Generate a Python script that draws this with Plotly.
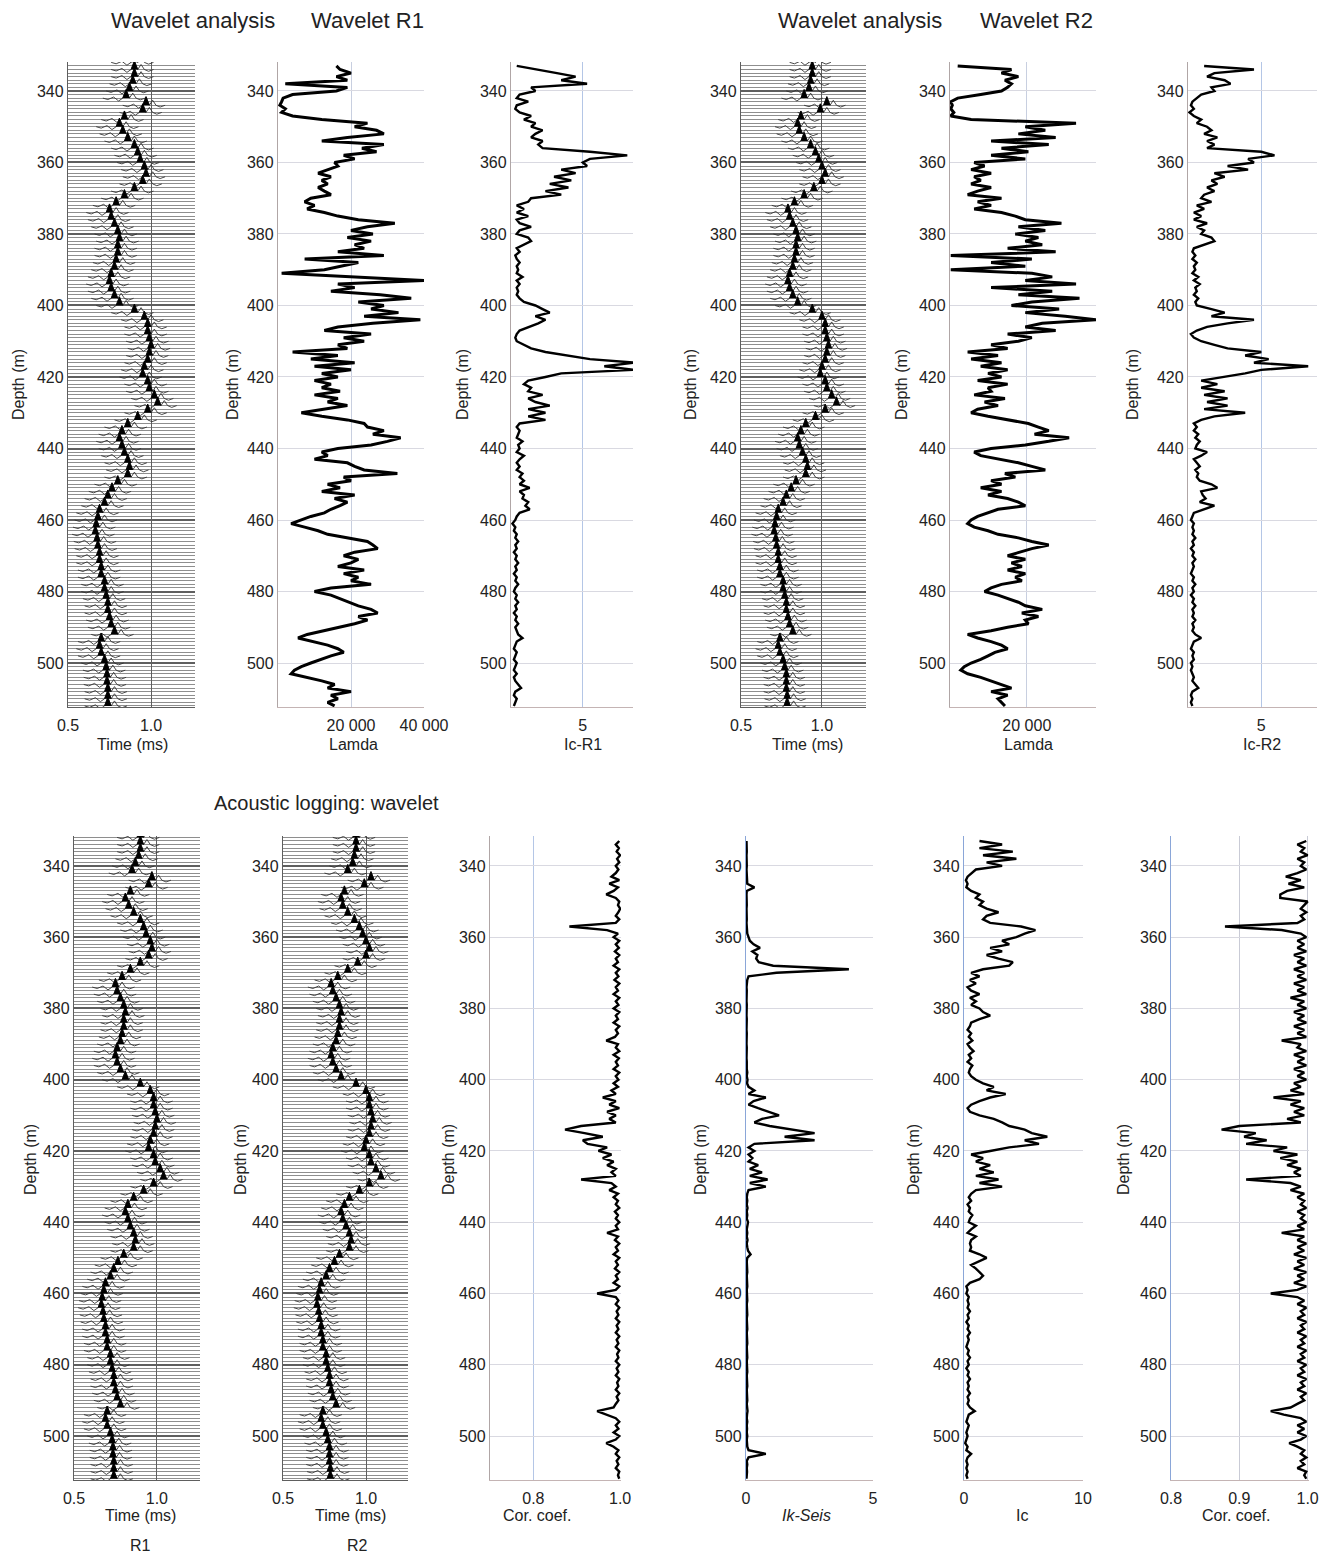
import plotly.graph_objects as go

W, H = 1329, 1557

# ---------------- data ----------------
DEPTH = list(range(333, 513))            # 1 m sampling for log curves
TRACE_DEPTH = list(range(332, 513, 2))   # wavelet traces every 2 m
DEPTH_TICKS = [340, 360, 380, 400, 420, 440, 460, 480, 500]

# first-arrival time of the wavelet (ms), one per trace
T_R1 = [0.90, 0.90, 0.90, 0.89, 0.87, 0.85, 0.97, 0.95, 0.84, 0.81,
        0.83, 0.86, 0.90, 0.92, 0.935, 0.96, 0.97, 0.95, 0.90, 0.84,
        0.79, 0.75, 0.76, 0.78, 0.80, 0.81, 0.80, 0.80, 0.79, 0.78,
        0.76, 0.75, 0.76, 0.78, 0.81, 0.90, 0.96, 0.98, 0.98, 0.99,
        1.00, 0.99, 0.98, 0.96, 0.95, 0.98, 0.99, 1.02, 1.04, 0.98,
        0.92, 0.86, 0.825, 0.81, 0.825, 0.84, 0.86, 0.87, 0.86, 0.80,
        0.765, 0.74, 0.72, 0.69, 0.68, 0.67, 0.665, 0.675, 0.68, 0.69,
        0.69, 0.70, 0.70, 0.72, 0.72, 0.73, 0.74, 0.74, 0.75, 0.76,
        0.78, 0.70, 0.69, 0.70, 0.72, 0.73, 0.735, 0.735, 0.74, 0.74,
        0.74]
T_R2 = [0.94, 0.94, 0.94, 0.93, 0.92, 0.89, 1.03, 0.99, 0.87, 0.85,
        0.86, 0.89, 0.93, 0.96, 0.98, 1.00, 1.02, 1.00, 0.95, 0.89,
        0.83, 0.79, 0.80, 0.82, 0.84, 0.85, 0.84, 0.84, 0.83, 0.82,
        0.80, 0.79, 0.80, 0.82, 0.85, 0.94, 1.00, 1.02, 1.02, 1.03,
        1.04, 1.03, 1.02, 1.00, 0.99, 1.02, 1.03, 1.06, 1.09, 1.02,
        0.96, 0.90, 0.87, 0.85, 0.86, 0.88, 0.90, 0.91, 0.90, 0.84,
        0.81, 0.78, 0.76, 0.73, 0.72, 0.71, 0.705, 0.715, 0.72, 0.73,
        0.73, 0.74, 0.74, 0.76, 0.76, 0.77, 0.78, 0.78, 0.79, 0.80,
        0.82, 0.74, 0.73, 0.74, 0.76, 0.77, 0.78, 0.78, 0.78, 0.785,
        0.785]

# wavelet template: time offset (ms) and deflection (m, positive = up)
WAVELET_DT = [-0.14, -0.11, -0.075, -0.045, -0.02, 0.0, 0.02, 0.04, 0.06, 0.085, 0.115]
WAVELET_AMP = [0.0, -0.4, 0.3, -0.8, 0.0, 2.4, 0.0, 1.4, 0.0, -0.5, 0.0]
FILL_IDX = [4, 5, 6]

LAMDA_R1_K = [16, 17, 20, 16, 19, 2, 19, 16, 4, 1.4,
              1, 0.5, 2, 1, 4, 12, 24.5, 21, 27, 29,
              19, 12, 29, 23, 27, 18, 21, 15.5, 16.4, 13.6,
              11, 14.5, 12, 13.6, 11, 12.7, 14.5, 9, 7.3, 10,
              8, 12.7, 16.4, 22, 32, 24.5, 20, 26, 19, 25.5,
              21, 23.6, 16.4, 29, 7.3, 22, 17, 12.7, 1, 21,
              40, 16.4, 21, 14.5, 28, 36.5, 22, 29, 25.5, 33,
              23.6, 39, 26, 16.4, 12.7, 25.5, 18, 23.6, 16.4, 19,
              4, 16.4, 9, 21, 10, 20, 12, 16.4, 10, 14.5,
              12, 17, 10, 16.4, 13.6, 19, 12.7, 6.4, 12, 19,
              23.6, 24.5, 29, 26, 33.6, 30, 25.5, 16.4, 12, 13.6,
              10, 19, 21, 23.6, 32.7, 18, 20, 13.6, 17, 12,
              21, 15.5, 19, 17, 14.5, 12.7, 9, 6.4, 3.6, 7.3,
              11, 13.6, 19, 24.5, 26, 27.3, 21, 18, 22, 20,
              16.4, 23.6, 18, 22, 20, 25.5, 14.5, 10, 14.5, 17,
              19, 22, 25.5, 27.3, 22, 24.5, 21, 16.4, 12, 8,
              5.5, 10, 13.6, 16.4, 18, 14.5, 12, 9, 6.4, 4.5,
              3.6, 8, 12, 15.5, 13.6, 20, 14.5, 16.4, 13.6, 15.5]

IC_R1 = [0.4, 1.9, 3.2, 4.5, 3.5, 5.3, 1.4, 1.7, 0.6, 0.4,
         1.2, 0.4, 0.3, 0.6, 1.4, 0.9, 1.7, 1.4, 2.2, 1.7,
         1.4, 2.2, 1.9, 2.2, 5.5, 8.1, 5.5, 5.0, 5.3, 3.5,
         4.5, 3.0, 4.2, 2.7, 4.0, 2.4, 3.5, 1.4, 1.2, 0.4,
         0.9, 0.4, 1.2, 0.4, 0.6, 1.4, 0.6, 0.4, 1.2, 1.4,
         0.9, 0.4, 0.6, 0.3, 0.4, 0.6, 0.4, 0.5, 0.4, 0.8,
         0.4, 0.6, 0.4, 0.5, 0.4, 0.6, 0.9, 1.7, 2.2, 2.7,
         1.7, 2.4, 1.9, 1.2, 0.6, 0.4, 0.3, 0.4, 0.9, 1.4,
         2.4, 4.0, 5.5, 8.6, 6.5, 8.6, 3.5, 2.4, 1.2, 0.9,
         1.4, 1.2, 2.2, 1.2, 1.7, 2.7, 1.2, 2.4, 1.2, 2.4,
         0.6, 0.4, 0.6, 0.5, 0.4, 0.8, 0.5, 0.6, 0.4, 0.9,
         0.6, 0.4, 0.6, 0.4, 0.8, 0.6, 0.9, 0.6, 1.3, 0.6,
         0.9, 0.8, 1.2, 1.0, 1.3, 0.6, 0.4, 0.3, 0.1, 0.3,
         0.2, 0.4, 0.3, 0.5, 0.3, 0.4, 0.2, 0.4, 0.3, 0.5,
         0.3, 0.4, 0.2, 0.4, 0.3, 0.5, 0.3, 0.2, 0.4, 0.3,
         0.5, 0.3, 0.4, 0.2, 0.4, 0.3, 0.5, 0.3, 0.4, 0.5,
         0.8, 0.4, 0.3, 0.2, 0.4, 0.3, 0.2, 0.4, 0.3, 0.2,
         0.4, 0.2, 0.3, 0.5, 0.7, 0.3, 0.2, 0.4, 0.3, 0.2]

LAMDA_R2_K = [2, 16, 13.4, 17.8, 14.3, 16, 15, 13.4, 8, 2,
              0.2, 0.6, 0.2, 1, 0.2, 5.5, 32.8, 19.6, 24.8, 17.8,
              27.5, 10.7, 25.7, 13.4, 20.4, 10.7, 19.6, 6.3, 9, 5.5,
              10.7, 6.3, 8, 5.5, 10.7, 7.2, 4.6, 13.4, 7.2, 10.7,
              6.3, 13.4, 17, 19.6, 29, 17.8, 24.8, 17, 23, 19.6,
              24, 15, 27.5, 0.2, 21.3, 10.7, 19.6, 0.2, 21.3, 26.6,
              19.6, 32.8, 10.7, 26.6, 17.8, 33.7, 21.3, 16, 28.4, 19.6,
              30, 38, 24, 19.6, 27.5, 15, 21.3, 17.8, 10.7, 15,
              4.6, 12.5, 5.5, 13.4, 8, 15, 9.9, 13.4, 7.2, 15,
              9.9, 10.7, 6.3, 14.3, 9, 12.5, 7.2, 5.5, 9.9, 15,
              20.4, 23, 25.7, 22, 31, 25.7, 19.6, 10.7, 6.3, 8,
              13.4, 17.8, 21.3, 24.8, 14.3, 17, 10.7, 13.4, 8, 13.4,
              9.9, 15, 17.8, 19.6, 12.5, 9.9, 7.2, 5.5, 4.6, 6.3,
              9.9, 12.5, 17.8, 21.3, 25.7, 21.3, 17.8, 15, 19.6, 16,
              18.7, 15, 19.6, 17, 18.7, 13.4, 10.7, 9, 12.5, 15,
              17.8, 19.6, 24, 18.7, 23, 19.6, 20.4, 15, 10.7, 4.6,
              7.2, 10.7, 13.4, 15, 11.7, 9.9, 8, 5.5, 3.7, 2.8,
              4.6, 8, 10.7, 13.4, 16, 10.7, 15, 12.5, 13.4, 14.3]

IC_R2 = [1.1, 4.5, 1.8, 1.3, 2.5, 2.9, 1.6, 1.8, 0.9, 0.6,
         0.3, 0.2, 0.4, 0.1, 0.4, 0.9, 0.6, 1.3, 1.6, 1.1,
         2.0, 1.3, 1.8, 1.3, 5.0, 5.9, 4.1, 4.5, 2.7, 4.1,
         1.8, 2.5, 1.6, 2.0, 1.3, 1.8, 1.1, 0.9, 1.6, 0.6,
         1.1, 0.4, 0.9, 0.4, 1.3, 0.6, 1.1, 0.9, 1.6, 1.8,
         1.1, 0.4, 0.3, 0.5, 0.3, 0.6, 0.4, 0.5, 0.3, 0.7,
         0.4, 0.8, 0.5, 0.6, 0.4, 0.7, 0.5, 0.6, 1.6, 2.5,
         1.6, 4.5, 2.7, 1.3, 0.6, 0.2, 0.4, 0.9, 1.8, 2.7,
         5.0, 3.9, 5.5, 4.5, 8.2, 5.0, 3.9, 2.5, 0.9, 2.0,
         0.9, 2.5, 1.1, 2.7, 1.3, 2.7, 1.1, 3.9, 1.8, 0.9,
         0.4, 0.6, 0.4, 0.7, 0.5, 0.8, 0.6, 0.5, 1.3, 0.9,
         0.4, 0.6, 0.8, 0.5, 0.7, 0.6, 0.8, 1.6, 2.0, 0.9,
         1.0, 1.2, 0.8, 1.8, 1.1, 0.4, 0.3, 0.2, 0.4, 0.3,
         0.4, 0.3, 0.5, 0.3, 0.4, 0.2, 0.4, 0.3, 0.5, 0.3,
         0.4, 0.3, 0.2, 0.4, 0.3, 0.5, 0.3, 0.4, 0.2, 0.4,
         0.3, 0.5, 0.3, 0.4, 0.3, 0.5, 0.3, 0.4, 0.3, 0.5,
         0.9, 0.4, 0.3, 0.2, 0.4, 0.3, 0.4, 0.2, 0.3, 0.2,
         0.3, 0.4, 0.3, 0.5, 0.7, 0.3, 0.2, 0.3, 0.2, 0.3]

CORR_R1 = [0.998, 0.99, 0.997, 0.992, 1.0, 0.993, 0.998, 0.99, 0.996, 0.99,
           0.98, 0.998, 0.975, 0.995, 0.985, 0.968, 0.99, 0.998, 0.995, 1.0,
           0.996, 0.99, 0.998, 0.99, 0.883, 0.97, 0.995, 0.985, 0.998, 0.99,
           0.997, 0.988, 0.998, 0.99, 0.995, 0.985, 0.998, 0.99, 0.996, 0.987,
           0.998, 0.99, 0.995, 0.985, 0.998, 0.99, 0.996, 0.985, 0.998, 0.99,
           0.995, 0.985, 0.998, 0.99, 0.995, 0.988, 0.968, 0.995, 0.99, 0.998,
           0.985, 0.997, 0.99, 0.995, 0.985, 0.998, 0.99, 0.996, 0.985, 0.995,
           0.98, 0.99, 0.96, 0.99, 0.975, 0.998, 0.97, 0.99, 0.975, 0.99,
           0.91, 0.873, 0.918, 0.96, 0.914, 0.925, 0.97, 0.95, 0.98, 0.96,
           0.985, 0.97, 0.99, 0.98, 0.99, 0.91, 0.98, 0.99, 0.975, 0.995,
           0.985, 0.995, 0.99, 0.998, 0.988, 0.995, 0.99, 0.998, 0.99, 0.995,
           0.97, 0.995, 0.988, 0.998, 0.99, 0.995, 0.985, 0.998, 0.99, 0.995,
           0.988, 0.998, 0.99, 0.995, 0.985, 0.998, 0.99, 0.947, 0.99, 0.996,
           0.99, 0.998, 0.992, 0.996, 0.99, 0.998, 0.992, 0.996, 0.99, 0.998,
           0.992, 0.996, 0.99, 0.998, 0.993, 0.996, 0.99, 0.998, 0.992, 0.996,
           0.99, 0.998, 0.993, 0.996, 0.99, 0.998, 0.992, 0.996, 0.99, 0.985,
           0.947, 0.97, 0.99, 0.998, 0.99, 0.996, 0.985, 0.998, 0.99, 0.968,
           0.985, 0.996, 0.99, 0.998, 0.992, 0.996, 0.99, 0.998, 0.995, 0.998]

IK_SEIS = [0.02, 0.03, 0.02, 0.03, 0.02, 0.03, 0.02, 0.03, 0.02, 0.03,
           0.02, 0.03, 0.05, 0.33, 0.03, 0.02, 0.03, 0.02, 0.03, 0.02,
           0.03, 0.02, 0.03, 0.02, 0.03, 0.02, 0.05, 0.1, 0.15, 0.3,
           0.55, 0.25, 0.45, 0.4, 0.5, 1.07, 4.05, 1.2, 0.1, 0.05,
           0.03, 0.02, 0.03, 0.02, 0.03, 0.02, 0.03, 0.02, 0.03, 0.02,
           0.03, 0.02, 0.03, 0.02, 0.03, 0.02, 0.03, 0.02, 0.03, 0.02,
           0.03, 0.02, 0.03, 0.02, 0.03, 0.05, 0.03, 0.06, 0.04, 0.1,
           0.33, 0.1, 0.78, 0.3, 0.1, 0.48, 0.93, 1.3, 0.63, 0.33,
           0.93, 1.82, 2.7, 1.52, 2.7, 0.33, 0.1, 0.33, 0.1, 0.25,
           0.1, 0.48, 0.15, 0.63, 0.15, 0.85, 0.15, 0.78, 0.1, 0.05,
           0.03, 0.05, 0.03, 0.06, 0.03, 0.05, 0.03, 0.08, 0.04, 0.03,
           0.05, 0.03, 0.06, 0.03, 0.05, 0.08, 0.18, 0.05, 0.03, 0.04,
           0.03, 0.05, 0.03, 0.04, 0.03, 0.05, 0.03, 0.04, 0.03, 0.05,
           0.03, 0.04, 0.03, 0.05, 0.03, 0.04, 0.03, 0.05, 0.03, 0.04,
           0.03, 0.05, 0.03, 0.04, 0.03, 0.05, 0.03, 0.04, 0.03, 0.05,
           0.03, 0.04, 0.03, 0.05, 0.03, 0.04, 0.03, 0.05, 0.03, 0.04,
           0.06, 0.04, 0.03, 0.05, 0.03, 0.04, 0.03, 0.05, 0.03, 0.04,
           0.05, 0.1, 0.78, 0.1, 0.03, 0.05, 0.03, 0.04, 0.03, 0.02]

IC_SEIS = [1.3, 3.2, 1.3, 4.1, 1.6, 4.4, 1.9, 3.2, 1.0, 0.6,
           0.3, 0.16, 0.3, 0.2, 0.6, 1.3, 1.0, 1.6, 1.3, 1.9,
           2.9, 1.9, 1.6, 2.2, 4.8, 6.0, 5.1, 4.4, 3.2, 3.8,
           2.2, 3.2, 1.9, 2.9, 4.1, 3.8, 1.6, 0.6, 1.3, 0.5,
           1.0, 0.3, 0.6, 1.3, 0.5, 1.0, 0.6, 1.3, 1.6, 2.2,
           1.3, 0.6, 0.5, 0.3, 0.6, 0.4, 0.7, 0.3, 0.5, 0.8,
           0.4, 0.6, 0.3, 0.7, 0.5, 0.4, 0.6, 1.0, 1.6, 2.5,
           1.9, 3.5, 2.2, 1.3, 0.6, 0.3, 0.5, 1.3, 2.5, 3.2,
           3.8, 5.1, 5.7, 7.0, 5.1, 6.3, 3.8, 2.2, 0.6, 1.6,
           1.0, 2.2, 1.3, 2.5, 1.0, 2.9, 1.3, 3.2, 1.0, 0.6,
           0.4, 0.6, 0.3, 0.5, 0.4, 0.7, 0.5, 0.4, 1.0, 0.6,
           0.3, 1.0, 0.6, 0.5, 0.6, 0.5, 1.3, 1.9, 1.3, 0.6,
           1.0, 1.3, 1.6, 1.3, 0.5, 0.2, 0.3, 0.2, 0.4, 0.3,
           0.4, 0.3, 0.5, 0.3, 0.4, 0.2, 0.4, 0.3, 0.5, 0.3,
           0.4, 0.3, 0.2, 0.4, 0.3, 0.5, 0.3, 0.4, 0.2, 0.4,
           0.3, 0.5, 0.3, 0.4, 0.3, 0.5, 0.3, 0.4, 0.3, 0.5,
           0.9, 0.4, 0.3, 0.2, 0.4, 0.3, 0.2, 0.3, 0.2, 0.1,
           0.3, 0.2, 0.6, 0.3, 0.2, 0.3, 0.2, 0.3, 0.2, 0.3]

CORR_R2 = [0.998, 0.985, 0.995, 0.99, 1.0, 0.985, 0.995, 0.99, 0.998, 0.985,
           0.968, 0.99, 0.972, 0.995, 0.97, 0.96, 0.96, 1.0, 0.995, 0.99,
           0.998, 0.99, 0.995, 0.985, 0.879, 0.962, 0.99, 0.998, 0.985, 0.995,
           0.985, 0.998, 0.98, 0.995, 0.985, 0.998, 0.98, 0.995, 0.985, 0.998,
           0.98, 0.995, 0.985, 0.998, 0.975, 0.995, 0.985, 0.998, 0.98, 0.995,
           0.985, 0.998, 0.98, 0.995, 0.985, 0.998, 0.962, 0.99, 0.985, 0.998,
           0.98, 0.995, 0.985, 0.998, 0.98, 0.995, 0.985, 0.998, 0.98, 0.99,
           0.975, 0.995, 0.95, 0.99, 0.975, 0.995, 0.98, 0.995, 0.97, 0.99,
           0.9, 0.874, 0.924, 0.907, 0.94, 0.91, 0.97, 0.95, 0.985, 0.96,
           0.985, 0.97, 0.99, 0.98, 0.99, 0.91, 0.975, 0.99, 0.975, 0.995,
           0.985, 0.995, 0.99, 0.998, 0.985, 0.995, 0.99, 0.998, 0.985, 0.995,
           0.962, 0.995, 0.985, 0.998, 0.985, 0.995, 0.98, 0.998, 0.985, 0.995,
           0.98, 0.998, 0.985, 0.995, 0.98, 0.998, 0.985, 0.946, 0.985, 0.995,
           0.985, 0.998, 0.99, 0.995, 0.985, 0.998, 0.99, 0.995, 0.985, 0.998,
           0.99, 0.995, 0.985, 0.998, 0.99, 0.995, 0.985, 0.998, 0.99, 0.995,
           0.985, 0.998, 0.99, 0.995, 0.985, 0.998, 0.99, 0.995, 0.985, 0.975,
           0.946, 0.965, 0.99, 0.998, 0.985, 0.995, 0.985, 0.998, 0.99, 0.973,
           0.985, 0.995, 0.99, 0.998, 0.99, 0.995, 0.985, 0.998, 0.995, 0.998]

for arr in (LAMDA_R1_K, IC_R1, LAMDA_R2_K, IC_R2, CORR_R1, IK_SEIS, IC_SEIS, CORR_R2):
    assert len(arr) == len(DEPTH), len(arr)
assert len(T_R1) == len(TRACE_DEPTH) and len(T_R2) == len(TRACE_DEPTH)

# ---------------- styling ----------------
FONT = "Liberation Sans, Arial, Helvetica, sans-serif"
TOP = dict(y0=62, y1=707, yrange=[512.3, 331.9])
BOT = dict(y0=836, y1=1480, yrange=[512.35, 331.6])

GRID_H = "#d9d9e1"
GRID_V = "#b4c6e6"
FRAME = "#b0a6a6"
BLUE_FRAME = "#8aa6d8"
WAVE_FRAME = "#5e5e5e"

# (n, x0px, x1px, row, xrange, tickvals, ticktext, kind, ylinecolor, vgridcolor)
PANELS = [
    (1, 68, 195, TOP, [0.5, 1.265], [0.5, 1.0], ["0.5", "1.0"], "wave", WAVE_FRAME, WAVE_FRAME),
    (2, 278, 424, TOP, [0, 40000], [20000, 40000], ["20 000", "40 000"], "log", FRAME, "#c8cfe0"),
    (3, 511, 633, TOP, [0, 8.5], [5], ["5"], "log", FRAME, GRID_V),
    (4, 741, 866, TOP, [0.5, 1.272], [0.5, 1.0], ["0.5", "1.0"], "wave", WAVE_FRAME, WAVE_FRAME),
    (5, 950, 1096, TOP, [0, 38000], [20000], ["20 000"], "log", FRAME, "#c8cfe0"),
    (6, 1188, 1317, TOP, [0, 8.8], [5], ["5"], "log", FRAME, GRID_V),
    (7, 74, 200, BOT, [0.5, 1.26], [0.5, 1.0], ["0.5", "1.0"], "wave", WAVE_FRAME, WAVE_FRAME),
    (8, 283, 408, BOT, [0.5, 1.253], [0.5, 1.0], ["0.5", "1.0"], "wave", WAVE_FRAME, WAVE_FRAME),
    (9, 490, 621, BOT, [0.7, 1.002], [0.8, 1.0], ["0.8", "1.0"], "log", FRAME, GRID_V),
    (10, 746, 873, BOT, [0, 5.0], [0, 5], ["0", "5"], "log", BLUE_FRAME, GRID_V),
    (11, 964, 1083, BOT, [0, 10.0], [0, 10], ["0", "10"], "log", BLUE_FRAME, GRID_V),
    (12, 1171, 1309, BOT, [0.8, 1.002], [0.8, 0.9, 1.0], ["0.8", "0.9", "1.0"], "log", BLUE_FRAME, "#c9cbd6"),
]

layout = dict(
    width=W, height=H, margin=dict(l=0, r=0, t=0, b=0, autoexpand=False), autosize=False,
    paper_bgcolor="white", plot_bgcolor="white", showlegend=False,
    font=dict(family=FONT, size=16, color="#222222"),
)

def axname(prefix, n):
    return prefix if n == 1 else f"{prefix}{n}"

for n, x0, x1, row, xr, tv, tt, kind, ylc, vgc in PANELS:
    xa = dict(
        domain=[x0 / W, x1 / W], range=xr, anchor="y" if n == 1 else f"y{n}",
        tickmode="array", tickvals=tv, ticktext=tt, ticks="", automargin=False,
        ticklabelstandoff=4,
        showgrid=True, gridcolor=vgc, gridwidth=1.2 if kind == "wave" else 1,
        showline=True, linecolor=WAVE_FRAME if kind == "wave" else "#c4b4b4",
        linewidth=1.3, zeroline=False, tickfont=dict(size=16, color="#222"),
        fixedrange=True,
    )
    ya = dict(
        domain=[1 - row["y1"] / H, 1 - row["y0"] / H], range=row["yrange"],
        anchor="x" if n == 1 else f"x{n}", automargin=False,
        tickmode="array", tickvals=DEPTH_TICKS, ticks="",
        showgrid=True, gridcolor="#5f5f5f" if kind == "wave" else GRID_H,
        gridwidth=1.6 if kind == "wave" else 1.2,
        showline=True, linecolor=ylc, linewidth=1.3, zeroline=False,
        tickfont=dict(size=16, color="#222"), fixedrange=True,
    )
    if kind == "wave":
        ya["minor"] = dict(tickmode="linear", tick0=0, dtick=1, showgrid=True,
                           gridcolor="#8e8e8e", gridwidth=0.9, ticks="")
    layout[axname("xaxis", n)] = xa
    layout[axname("yaxis", n)] = ya

fig = go.Figure()

def ref(n):
    return ("x" if n == 1 else f"x{n}", "y" if n == 1 else f"y{n}")

def add_curve(n, xs, width=2.6):
    xr_, yr_ = ref(n)
    fig.add_trace(go.Scatter(x=xs, y=DEPTH, mode="lines", xaxis=xr_, yaxis=yr_,
                             line=dict(color="black", width=width), hoverinfo="skip"))

def add_wavelets(n, times):
    xr_, yr_ = ref(n)
    ox, oy, fx, fy = [], [], [], []
    for d, t in zip(TRACE_DEPTH, times):
        for dt, a in zip(WAVELET_DT, WAVELET_AMP):
            ox.append(t + dt)
            oy.append(d - a)
        ox.append(None); oy.append(None)
        for k in FILL_IDX:
            fx.append(t + WAVELET_DT[k])
            fy.append(d - WAVELET_AMP[k])
        fx.append(None); fy.append(None)
    fig.add_trace(go.Scatter(x=ox, y=oy, mode="lines", xaxis=xr_, yaxis=yr_,
                             line=dict(color="#333333", width=0.9), hoverinfo="skip"))
    fig.add_trace(go.Scatter(x=fx, y=fy, mode="lines", xaxis=xr_, yaxis=yr_, fill="toself",
                             fillcolor="black", line=dict(color="black", width=0.8),
                             hoverinfo="skip"))

add_wavelets(1, T_R1)
add_curve(2, [v * 1000 for v in LAMDA_R1_K], 3.0)
add_curve(3, IC_R1, 2.4)
add_wavelets(4, T_R2)
add_curve(5, [v * 1000 for v in LAMDA_R2_K], 3.0)
add_curve(6, IC_R2, 2.4)
add_wavelets(7, T_R1)
add_wavelets(8, T_R2)
add_curve(9, CORR_R1, 2.4)
add_curve(10, IK_SEIS, 2.4)
add_curve(11, IC_SEIS, 2.4)
add_curve(12, CORR_R2, 2.4)

def ann(text, x, y, size=16, angle=0):
    return dict(text=text, x=x / W, y=1 - y / H, xref="paper", yref="paper",
                showarrow=False, textangle=angle, xanchor="center", yanchor="middle",
                font=dict(size=size, color="#222222", family=FONT))

annotations = [
    ann("Wavelet analysis", 193, 20, 22), ann("Wavelet R1", 367, 20, 22),
    ann("Wavelet analysis", 860, 20, 22), ann("Wavelet R2", 1036, 20, 22),
    ann("Acoustic logging: wavelet", 326, 803, 20),
    # x-axis titles
    ann("Time (ms)", 132, 744), ann("Lamda", 353, 744), ann("Ic-R1", 583, 744),
    ann("Time (ms)", 808, 744), ann("Lamda", 1028, 744), ann("Ic-R2", 1262, 744),
    ann("Time (ms)", 140, 1515), ann("Time (ms)", 350, 1515), ann("Cor. coef.", 537, 1515),
    ann("<i>Ik-Seis</i>", 806, 1515), ann("Ic", 1022, 1515), ann("Cor. coef.", 1236, 1515),
    ann("R1", 140, 1545), ann("R2", 357, 1545),
]
for xp in (18, 232, 462, 690, 901, 1132):
    annotations.append(ann("Depth (m)", xp, 385, 16, -90))
for xp in (30, 240, 448, 700, 913, 1123):
    annotations.append(ann("Depth (m)", xp, 1160, 16, -90))
layout["annotations"] = annotations

fig.update_layout(**layout)
fig.write_html(
    "out.html",
    config={"responsive": False, "displayModeBar": False},
    default_width=f"{W}px", default_height=f"{H}px",
    post_script="document.body.style.margin='0';document.body.style.overflow='hidden';",
)
